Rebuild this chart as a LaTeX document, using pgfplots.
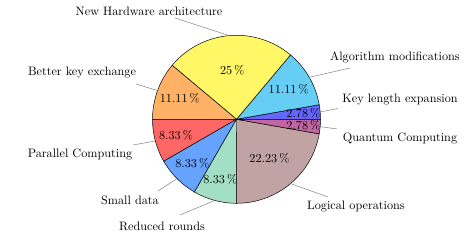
\documentclass[border=0pt]{standalone}
\usepackage{pgfplots}
\pgfplotsset{compat=1.18}
\begin{document}
\begin{tikzpicture}
% pie centre (cx,cy) and radius r, in axis units (1 unit = 1 px of the 471x241 reference)
\def\cx{236.5}\def\cy{121.7}\def\r{84}
\begin{axis}[
  scale only axis, width=386pt, height=197.5pt,
  xmin=0, xmax=471, ymin=0, ymax=241,
  hide axis, clip=false,
]
\path (axis cs:0,0) rectangle (axis cs:471,241);
% slices: cumulative percentages (start:end), counter-clockwise from 0 degrees
% Key length expansion 2.78, Algorithm modifications 11.11, New Hardware architecture 25,
% Better key exchange 11.11, Parallel Computing 8.33, Small data 8.33, Reduced rounds 8.33,
% Logical operations 22.23, Quantum Computing 2.78
\addplot[draw=black, fill=blue!60, domain=0:2.78, samples=5, variable=\t]
  ({\cx+\r*cos(3.6*t)}, {\cy+\r*sin(3.6*t)}) -- (axis cs:\cx,\cy) -- cycle;
\addplot[draw=black, fill=cyan!60, domain=2.78:13.89, samples=20, variable=\t]
  ({\cx+\r*cos(3.6*t)}, {\cy+\r*sin(3.6*t)}) -- (axis cs:\cx,\cy) -- cycle;
\addplot[draw=black, fill=yellow!60, domain=13.89:38.89, samples=40, variable=\t]
  ({\cx+\r*cos(3.6*t)}, {\cy+\r*sin(3.6*t)}) -- (axis cs:\cx,\cy) -- cycle;
\addplot[draw=black, fill=orange!60, domain=38.89:50.00, samples=20, variable=\t]
  ({\cx+\r*cos(3.6*t)}, {\cy+\r*sin(3.6*t)}) -- (axis cs:\cx,\cy) -- cycle;
\addplot[draw=black, fill=red!60, domain=50.00:58.33, samples=15, variable=\t]
  ({\cx+\r*cos(3.6*t)}, {\cy+\r*sin(3.6*t)}) -- (axis cs:\cx,\cy) -- cycle;
\addplot[draw=black, fill=blue!60!cyan!60, domain=58.33:66.66, samples=15, variable=\t]
  ({\cx+\r*cos(3.6*t)}, {\cy+\r*sin(3.6*t)}) -- (axis cs:\cx,\cy) -- cycle;
\addplot[draw=black, fill=cyan!60!yellow!60, domain=66.66:74.99, samples=15, variable=\t]
  ({\cx+\r*cos(3.6*t)}, {\cy+\r*sin(3.6*t)}) -- (axis cs:\cx,\cy) -- cycle;
\addplot[draw=black, fill=red!60!cyan!60, domain=74.99:97.22, samples=35, variable=\t]
  ({\cx+\r*cos(3.6*t)}, {\cy+\r*sin(3.6*t)}) -- (axis cs:\cx,\cy) -- cycle;
\addplot[draw=black, fill=red!60!blue!60, domain=97.22:100, samples=5, variable=\t]
  ({\cx+\r*cos(3.6*t)}, {\cy+\r*sin(3.6*t)}) -- (axis cs:\cx,\cy) -- cycle;

% percentage labels (midangle, distance factor)
\node at (axis cs:{\cx+\r*0.80*cos(5)},{\cy+\r*0.80*sin(5)}) {2.78\,\%};
\node at (axis cs:{\cx+\r*0.718*cos(30)},{\cy+\r*0.718*sin(30)}) {11.11\,\%};
\node at (axis cs:{\cx+\r*0.582*cos(95)},{\cy+\r*0.582*sin(95)}) {25\,\%};
\node at (axis cs:{\cx+\r*0.718*cos(160)},{\cy+\r*0.718*sin(160)}) {11.11\,\%};
\node at (axis cs:{\cx+\r*0.745*cos(195)},{\cy+\r*0.745*sin(195)}) {8.33\,\%};
\node at (axis cs:{\cx+\r*0.745*cos(225)},{\cy+\r*0.745*sin(225)}) {8.33\,\%};
\node at (axis cs:{\cx+\r*0.745*cos(255)},{\cy+\r*0.745*sin(255)}) {8.33\,\%};
\node at (axis cs:{\cx+\r*0.61*cos(310)},{\cy+\r*0.61*sin(310)}) {22.23\,\%};
\node at (axis cs:{\cx+\r*0.80*cos(355)},{\cy+\r*0.80*sin(355)}) {2.78\,\%};

% pin lines
\addplot[gray, thin] coordinates {(175,223) (229.2,205.4)};
\addplot[gray, thin] coordinates {(350,173) (309.2,163.7)};
\addplot[gray, thin] coordinates {(338,132.5) (320.2,129)};
\addplot[gray, thin] coordinates {(337,112) (320.2,114.4)};
\addplot[gray, thin] coordinates {(328,44) (290.5,57.4)};
\addplot[gray, thin] coordinates {(180,26) (214.8,40.6)};
\addplot[gray, thin] coordinates {(158,50) (177,62.3)};
\addplot[gray, thin] coordinates {(133,96) (155.4,100)};
\addplot[gray, thin] coordinates {(136,157) (157.6,150.4)};

% slice names
\node at (axis cs:149,230) {New Hardware architecture};
\node at (axis cs:395,184) {Algorithm modifications};
\node at (axis cs:400,141) {Key length expansion};
\node at (axis cs:400,103) {Quantum Computing};
\node at (axis cs:356,34) {Logical operations};
\node at (axis cs:162,15) {Reduced rounds};
\node at (axis cs:130,41) {Small data};
\node at (axis cs:80,87) {Parallel Computing};
\node at (axis cs:82,168) {Better key exchange};
\end{axis}
\end{tikzpicture}
\end{document}
